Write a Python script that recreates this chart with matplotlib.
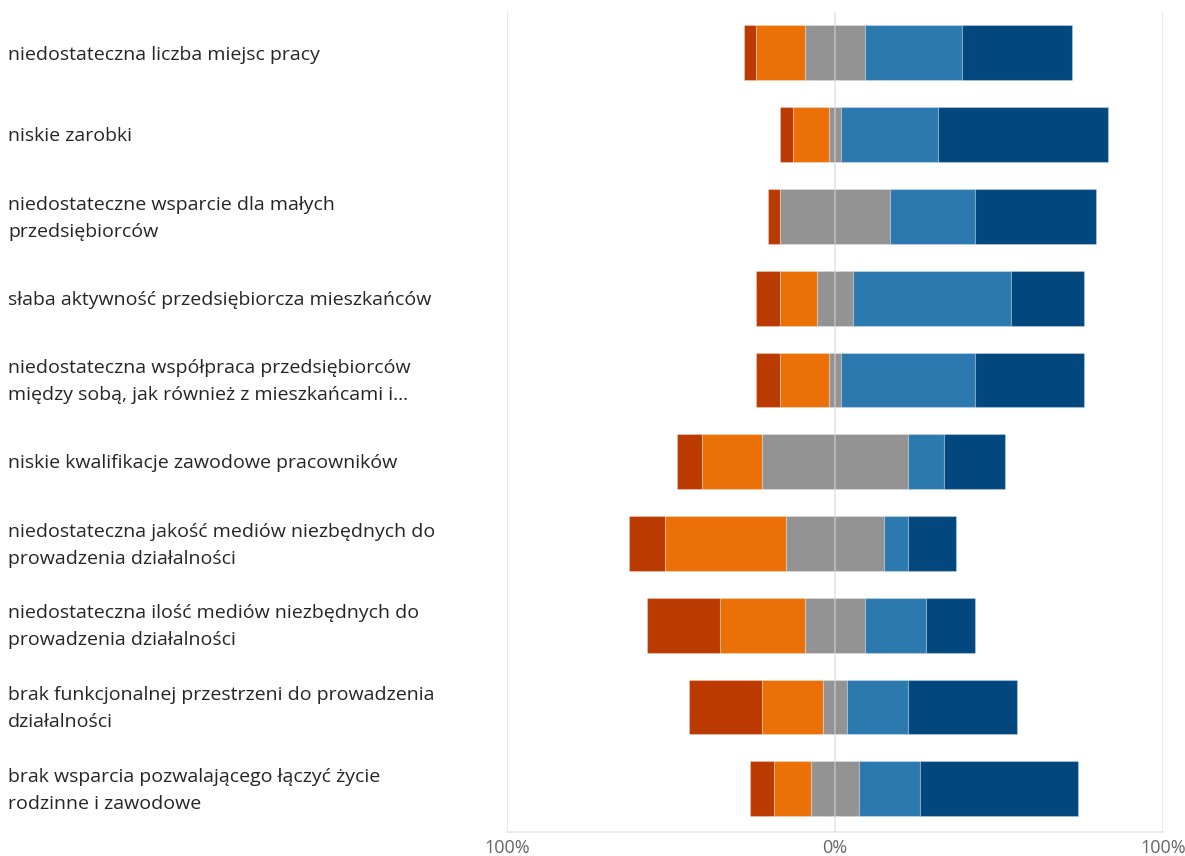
import matplotlib
matplotlib.use("Agg")
import matplotlib.pyplot as plt
import matplotlib.transforms as mtransforms
import numpy as np

plt.rcParams['font.family'] = ['Open Sans', 'DejaVu Sans']

categories = [
    "niedostateczna liczba miejsc pracy",
    "niskie zarobki",
    "niedostateczne wsparcie dla małych\nprzedsiębiorców",
    "słaba aktywność przedsiębiorcza mieszkańców",
    "niedostateczna współpraca przedsiębiorców\nmiędzy sobą, jak również z mieszkańcami i…",
    "niskie kwalifikacje zawodowe pracowników",
    "niedostateczna jakość mediów niezbędnych do\nprowadzenia działalności",
    "niedostateczna ilość mediów niezbędnych do\nprowadzenia działalności",
    "brak funkcjonalnej przestrzeni do prowadzenia\ndziałalności",
    "brak wsparcia pozwalającego łączyć życie\nrodzinne i zawodowe",
]

# percentages per answer level
strongly_neg = [3.7, 3.7, 3.7, 7.4, 7.4, 7.4, 11.1, 22.2, 22.2, 7.4]
neg          = [14.8, 11.1, 0.0, 11.1, 14.8, 18.5, 37.0, 25.9, 18.5, 11.1]
neutral      = [18.5, 3.7, 33.3, 11.1, 3.7, 44.4, 29.6, 18.5, 7.4, 14.8]
pos          = [29.6, 29.6, 25.9, 48.1, 40.7, 11.1, 7.4, 18.5, 18.5, 18.5]
strongly_pos = [33.3, 51.9, 37.0, 22.2, 33.3, 18.5, 14.8, 14.8, 33.3, 48.1]

x_ticks = [-100, 0, 100]
x_ticklabels = ["100%", "0%", "100%"]

colors = ["#BA3A02", "#EA7007", "#939393", "#2C79B0", "#02487F"]

fig = plt.figure(figsize=(11.85, 8.56), dpi=100)
ax = fig.add_axes([507/1185, 1-832/856, (1163-507)/1185, (832-12)/856])

y = np.arange(len(categories))
sn = np.array(strongly_neg); n = np.array(neg); ne = np.array(neutral)
p = np.array(pos); sp = np.array(strongly_pos)

left_start = -(sn + n + ne / 2)
series = [sn, n, ne, p, sp]
lefts = left_start.copy()
h = 0.67
for vals, c in zip(series, colors):
    ax.barh(y, vals, left=lefts, height=h, color=c,
            edgecolor=(1, 1, 1, 0.25), linewidth=0.8, zorder=2)
    lefts = lefts + vals

ax.set_xlim(-100, 100)
ax.set_ylim(len(categories) - 1 + 0.53, -0.5)

# gridlines
for xv in [-100, 100]:
    ax.axvline(xv, color="#E6E6E6", linewidth=1.2, zorder=1)
ax.axvline(0, color="#D5D5D5", linewidth=1.2, alpha=0.6, zorder=3)

for s in ["top", "left", "right"]:
    ax.spines[s].set_visible(False)
ax.spines["bottom"].set_color("#E6E6E6")
ax.spines["bottom"].set_linewidth(1.2)

ax.set_yticks([])
ax.set_xticks(x_ticks)
ax.set_xticklabels(x_ticklabels, color="#666666", fontsize=13)
ax.tick_params(axis="x", length=0, pad=5)

trans = mtransforms.blended_transform_factory(fig.transFigure, ax.transData)
for yi, lab in zip(y, categories):
    ax.text(8/1185, yi + 0.02, lab, transform=trans, ha="left", va="center",
            fontsize=14.0, color="#252525", linespacing=1.64, clip_on=False)

fig.savefig("out.png", dpi=100)
